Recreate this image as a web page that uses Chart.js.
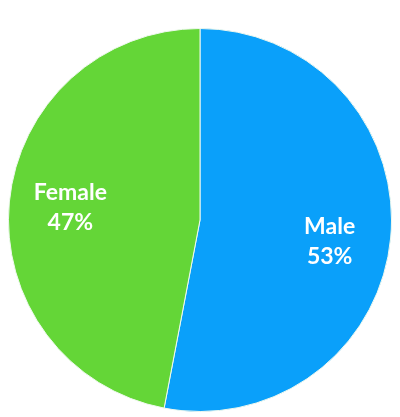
<!DOCTYPE html>
<html>
<head>
<meta charset="utf-8">
<script src="https://cdn.jsdelivr.net/npm/chart.js@4"></script>
<style>
  html, body { margin: 0; padding: 0; background: #fff; }
  #wrap { width: 400px; height: 417px; }
</style>
</head>
<body>
<div id="wrap"><canvas id="myChart" width="400" height="417"></canvas></div>
<script>
const labels = ["Male", "Female"];
const shares = [53, 47];
const colors = ["#0aa0fa", "#64d637"];

// draw "Label\nNN%" inside each slice
const sliceLabels = {
  id: 'sliceLabels',
  afterDatasetsDraw(chart, args, opts) {
    const ctx = chart.ctx;
    const meta = chart.getDatasetMeta(0);
    ctx.save();
    ctx.fillStyle = '#fff';
    ctx.textAlign = 'center';
    ctx.textBaseline = 'middle';
    ctx.font = 'bold 23px Lato';
    meta.data.forEach((arc, i) => {
      const mid = (arc.startAngle + arc.endAngle) / 2;
      const r = arc.outerRadius * 0.68;
      const x = arc.x + Math.cos(mid) * r;
      const y = arc.y + Math.sin(mid) * r + (opts.nudge[i] || 0);
      ctx.fillText(labels[i], x, y - 15);
      ctx.fillText(shares[i] + '%', x, y + 15);
    });
    ctx.restore();
  }
};

new Chart(document.getElementById('myChart').getContext('2d'), {
  type: 'pie',
  data: {
    labels: labels,
    datasets: [{
      data: shares,
      backgroundColor: colors,
      borderColor: '#eef8ee',
      borderWidth: 1
    }]
  },
  options: {
    responsive: false,
    animation: false,
    layout: { padding: { top: 28, bottom: 5, left: 8, right: 8 } },
    plugins: {
      legend: { display: false },
      tooltip: { enabled: false },
      sliceLabels: { nudge: [9, 0] }
    }
  },
  plugins: [sliceLabels]
});
</script>
</body>
</html>
